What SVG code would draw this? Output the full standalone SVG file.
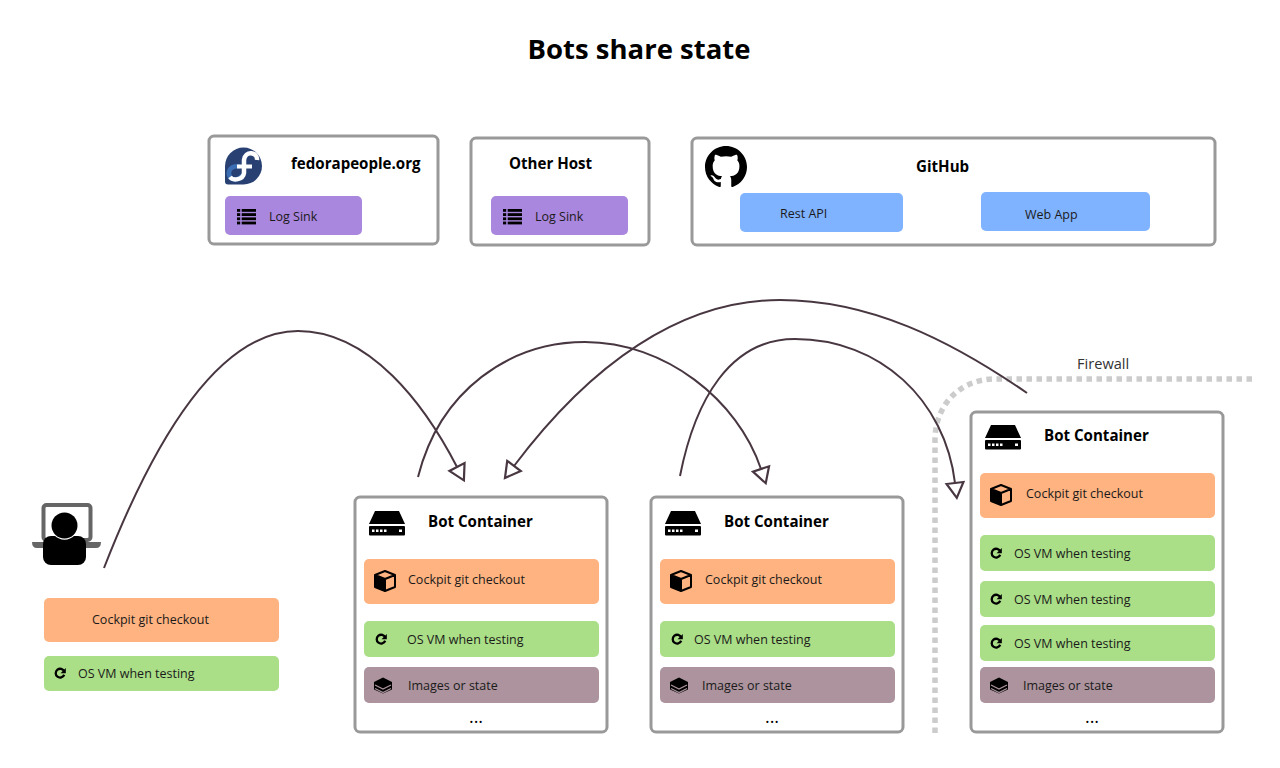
<svg xmlns="http://www.w3.org/2000/svg" xmlns:xlink="http://www.w3.org/1999/xlink" width="1280" height="768" viewBox="0 0 1280 768">
<style>
text{font-family:"Open Sans","Noto Sans",sans-serif;fill:#1a1a1a;font-size:12.5px}
.b{font-weight:700;font-size:15.1px;fill:#000}
.d{font-size:18px;fill:#000}
.box{fill:#fff;stroke:#999;stroke-width:3}
.o{fill:#ffb380}.g{fill:#aade87}.m{fill:#ac939d}.p{fill:#aa87de}.u{fill:#80b3ff}
.c{fill:none;stroke:#483741;stroke-width:2;marker-end:url(#tri)}
</style>
<defs>
<marker id="tri" markerUnits="userSpaceOnUse" markerWidth="24" markerHeight="24" refX="3" refY="12" orient="auto" overflow="visible">
<path d="M3 3.500L18 12L3 20.500Z" fill="#fff" stroke="#483741" stroke-width="2.200"/>
</marker>
<g id="server">
<path d="M6 0H30L36 13H0Z"/><rect x="0" y="15" width="36" height="9.500" rx="1"/>
<g fill="#fff"><rect x="3" y="18.500" width="2.500" height="2.500"/><rect x="7" y="18.500" width="2.500" height="2.500"/><rect x="11" y="18.500" width="2.500" height="2.500"/><rect x="15" y="18.500" width="2.500" height="2.500"/><rect x="30" y="18.500" width="3" height="2.500"/></g>
</g>
<g id="cube">
<path d="M1 5.500L11 9.500V21L1 17Z"/>
<path d="M11 1L21 5V17L11 21L1 17V5ZM1 5L11 9L21 5M11 9V21" fill="none" stroke="#000" stroke-width="2" stroke-linejoin="round"/>
</g>
<g id="refresh">
<path d="M4.200 -1.500A4.400 4.400 0 1 0 4.200 1.800" fill="none" stroke="#000" stroke-width="2.300"/>
<path d="M5.800 -5V0.200H0.600Z"/>
</g>
<g id="layers">
<path d="M0 -8L9 -3.500V4L0 8L-9 4V-3.500Z"/>
<path d="M-8 -0.500L0 3.500L8 -0.500M-8 3L0 7L8 3" fill="none" stroke="#ac939d" stroke-width="1.200"/>
</g>
<g id="list">
<rect x="0" y="0" width="3.200" height="2.800"/><rect x="0" y="4.200" width="3.200" height="2.800"/><rect x="0" y="8.400" width="3.200" height="2.800"/><rect x="0" y="12.600" width="3.200" height="2.800"/>
<rect x="4.700" y="0" width="14.300" height="2.800"/><rect x="4.700" y="4.200" width="14.300" height="2.800"/><rect x="4.700" y="8.400" width="14.300" height="2.800"/><rect x="4.700" y="12.600" width="14.300" height="2.800"/>
</g>
</defs>

<text x="639" y="59" text-anchor="middle" style="font-size:27.500px;font-weight:700;fill:#000">Bots share state</text>

<g id="firewall">
<path d="M1252 379H995C960 379 935 405 935 440V733" fill="none" stroke="#ccc" stroke-width="5.500" stroke-dasharray="5.500 4.500"/>
<text x="1077" y="369" style="font-size:14.600px;fill:#333">Firewall</text>
</g>

<g id="fedorapeople">
<rect class="box" x="209" y="136" width="229" height="108" rx="5"/>
<path d="M225 166A18.500 18.500 0 1 1 243.500 184.500H228Q225 184.500 225 181.500Z" fill="#294172"/>
<path d="M240 166.500C230 165 227 172 230 177C233 181 240 180 242 175" fill="none" stroke="#3c6eb4" stroke-width="4.500"/>
<path d="M257 160C258 152 245 150 244 160V173C243 180 233 181 230 177" fill="none" stroke="#fff" stroke-width="4.500"/>
<path d="M237 166.500H252" stroke="#fff" stroke-width="4"/>
<text class="b" x="291" y="169">fedorapeople.org</text>
<rect class="p" x="225" y="196" width="137" height="39" rx="5"/>
<use href="#list" x="237" y="209"/>
<text x="269" y="221">Log Sink</text>
</g>

<g id="other-host">
<rect class="box" x="471" y="138" width="178" height="107" rx="5"/>
<text class="b" x="509" y="169">Other Host</text>
<rect class="p" x="491" y="196" width="137" height="39" rx="5"/>
<use href="#list" x="503" y="209"/>
<text x="535" y="221">Log Sink</text>
</g>

<g id="github">
<rect class="box" x="692" y="138" width="523" height="107" rx="5"/>
<path transform="translate(705 146) scale(2.625)" d="M8 0C3.58 0 0 3.58 0 8c0 3.540 2.290 6.530 5.470 7.590.4.070.55-.17.55-.38 0-.19-.01-.82-.01-1.490-2.010.37-2.530-.49-2.690-.94-.09-.23-.48-.94-.82-1.130-.28-.15-.68-.52-.01-.53.63-.01 1.080.58 1.230.82.72 1.210 1.870.87 2.330.66.07-.52.28-.87.51-1.070-1.780-.2-3.640-.89-3.640-3.950 0-.87.31-1.590.82-2.150-.08-.2-.36-1.020.08-2.120 0 0 .67-.21 2.200.82.64-.18 1.320-.27 2-.27.68 0 1.360.09 2 .27 1.530-1.040 2.200-.82 2.200-.82.44 1.100.16 1.920.08 2.120.51.56.82 1.270.82 2.150 0 3.070-1.870 3.750-3.650 3.950.29.25.54.73.54 1.480 0 1.070-.01 1.930-.01 2.200 0 .21.15.46.55.38A8.013 8.013 0 0016 8c0-4.420-3.580-8-8-8z"/>
<text class="b" x="916" y="172">GitHub</text>
<rect class="u" x="740" y="193" width="163" height="39" rx="5"/>
<text x="780" y="217.500">Rest API</text>
<rect class="u" x="981" y="192" width="169" height="39" rx="5"/>
<text x="1025" y="218.500">Web App</text>
</g>

<g id="user">
<rect x="43.500" y="505" width="47" height="35" rx="3" fill="#fff" stroke="#666" stroke-width="4"/>
<path d="M32 542H101Q101 548 96 548H37Q32 548 32 542Z" fill="#666"/>
<rect x="43" y="536" width="43" height="29" rx="8"/>
<circle cx="64.500" cy="525.500" r="14.200" fill="#fff"/>
<circle cx="64.500" cy="525.500" r="13"/>
</g>

<g id="local-items">
<rect class="o" x="44" y="598" width="235" height="44" rx="5"/>
<text x="92" y="624">Cockpit git checkout</text>
<rect class="g" x="44" y="656" width="235" height="35" rx="5"/>
<use href="#refresh" x="60" y="673"/>
<text x="78" y="678">OS VM when testing</text>
</g>

<g id="bot-1">
<rect class="box" x="355" y="497" width="252" height="235" rx="5"/>
<use href="#server" x="369" y="511"/>
<text class="b" x="428" y="527">Bot Container</text>
<rect class="o" x="364" y="559" width="235" height="45" rx="5"/>
<use href="#cube" x="374" y="570"/>
<text x="408" y="584">Cockpit git checkout</text>
<rect class="g" x="364" y="621" width="235" height="36" rx="5"/>
<use href="#refresh" x="381" y="639"/>
<text x="407" y="644">OS VM when testing</text>
<rect class="m" x="364" y="667" width="235" height="36" rx="5"/>
<use href="#layers" x="383" y="685.500"/>
<text x="408" y="690">Images or state</text>
<text class="d" x="476" y="723" text-anchor="middle">...</text>
</g>

<g id="bot-2">
<rect class="box" x="651" y="497" width="252" height="235" rx="5"/>
<use href="#server" x="665" y="511"/>
<text class="b" x="724" y="527">Bot Container</text>
<rect class="o" x="660" y="559" width="235" height="45" rx="5"/>
<use href="#cube" x="670" y="570"/>
<text x="705" y="584">Cockpit git checkout</text>
<rect class="g" x="660" y="621" width="235" height="36" rx="5"/>
<use href="#refresh" x="677" y="639"/>
<text x="694" y="644">OS VM when testing</text>
<rect class="m" x="660" y="667" width="235" height="36" rx="5"/>
<use href="#layers" x="679" y="685.500"/>
<text x="702" y="690">Images or state</text>
<text class="d" x="772" y="723" text-anchor="middle">...</text>
</g>

<g id="bot-3">
<rect class="box" x="971" y="412" width="252" height="320" rx="5"/>
<use href="#server" x="985" y="425"/>
<text class="b" x="1044" y="441">Bot Container</text>
<rect class="o" x="980" y="473" width="235" height="45" rx="5"/>
<use href="#cube" x="990" y="484"/>
<text x="1026" y="498">Cockpit git checkout</text>
<rect class="g" x="980" y="535" width="235" height="36" rx="5"/>
<use href="#refresh" x="996" y="553"/>
<text x="1014" y="558">OS VM when testing</text>
<rect class="g" x="980" y="581" width="235" height="36" rx="5"/>
<use href="#refresh" x="996" y="599"/>
<text x="1014" y="604">OS VM when testing</text>
<rect class="g" x="980" y="625" width="235" height="36" rx="5"/>
<use href="#refresh" x="996" y="643"/>
<text x="1014" y="648">OS VM when testing</text>
<rect class="m" x="980" y="667" width="235" height="36" rx="5"/>
<use href="#layers" x="999" y="685.500"/>
<text x="1023" y="690">Images or state</text>
<text class="d" x="1092" y="723" text-anchor="middle">...</text>
</g>

<g id="connectors">
<path class="c" d="M104 568C150 450 215 331 298 331C370 331 425 405 457 467"/>
<path class="c" d="M418 477C440 390 510 342 585 342C665 342 738 400 761 469"/>
<path class="c" d="M1027 393C950 340 870 300 780 300C680 300 590 365 514 466"/>
<path class="c" d="M680 476C695 400 730 339 795 339C880 339 945 400 955 483"/>
</g>
</svg>
